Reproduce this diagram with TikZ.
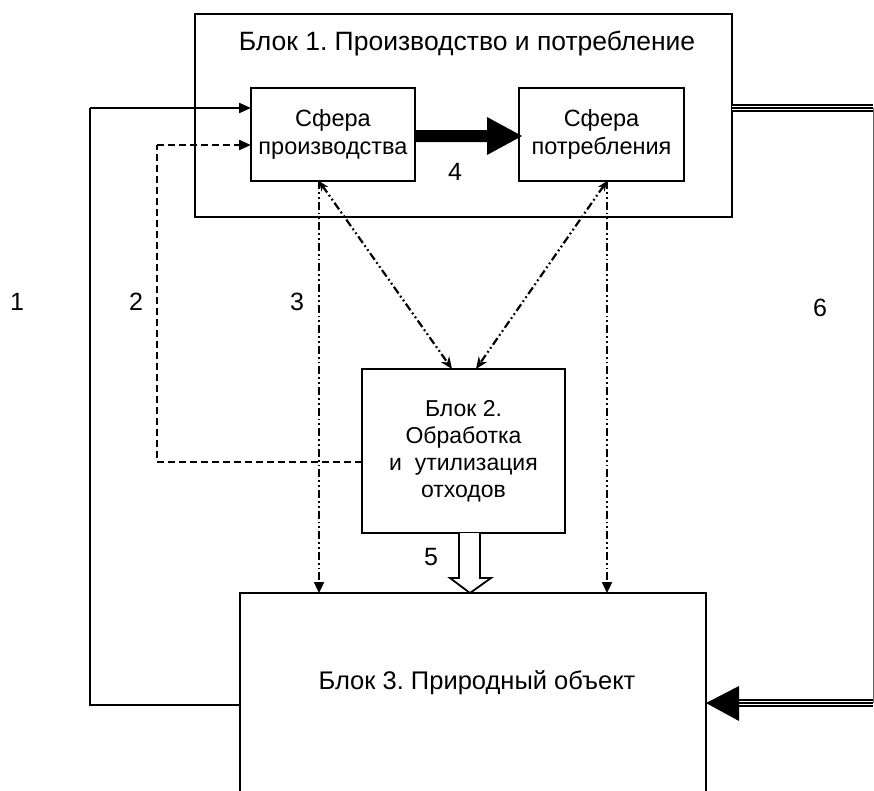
\documentclass[tikz,border=0pt]{standalone}
\usepackage{fontspec}
\setmainfont{Liberation Sans}
\usetikzlibrary{arrows.meta,calc}
\begin{document}
\frenchspacing
\begin{tikzpicture}[x=1pt,y=-1pt,
  rbox/.style={draw,line width=1.2pt,inner sep=0pt,outer sep=0pt,anchor=north west,align=center},
  lbl/.style={inner sep=0pt,font=\fontsize{25}{28}\selectfont},
  inbox/.style={font=\fontsize{23.5}{28}\selectfont},
  dashdot/.style={line width=2.2pt,dash pattern=on 8pt off 3pt on 1.8pt off 3pt on 1.8pt off 3pt},
  dashtwo/.style={line width=2.2pt,dash pattern=on 7pt off 4pt},
  tri/.style={-{Triangle[length=11pt,width=10pt]}},
  tribi/.style={{Stealth[length=10pt,width=8pt]}-{Stealth[length=12pt,width=10pt]}}
]
\useasboundingbox (0,0) rectangle (874,790);
% boxes
\node[rbox,minimum width=537pt,minimum height=203pt] (b1) at (195,14) {};
\node[inner sep=0pt,font=\fontsize{26.5}{30}\selectfont] (t1) at (467,44) {Блок 1. Производство и потребление};
\node[rbox,inbox,minimum width=164pt,minimum height=93pt] (prod) at (251,88) {Сфера\\производства};
\node[rbox,inbox,minimum width=165pt,minimum height=93pt] (cons) at (519,88) {Сфера\\потребления};
\node[rbox,font=\fontsize{23}{27}\selectfont,minimum width=203pt,minimum height=164pt] (b2) at (362,369) {Блок 2.\\Обработка\\и\ \ утилизация\\отходов};
\node[rbox,minimum width=466pt,minimum height=240pt] (b3) at (240,593) {};
\node[inner sep=0pt,font=\fontsize{25.5}{30}\selectfont] (t3) at (477,683) {Блок 3. Природный объект};
% labels
\node[lbl] (n1) at (17,302) {1};
\node[lbl] (n2) at (136,302) {2};
\node[lbl] (n3) at (297,302) {3};
\node[lbl] (n4) at (455,172) {4};
\node[lbl] (n5) at (431,557) {5};
\node[lbl] (n6) at (820,308) {6};
% coordinates
\coordinate (l1) at ($(b3.north west)+(0,112)$);
\coordinate (c1) at (90,108);
\coordinate (l1t) at ($(prod.north west)+(0,20)$);
\coordinate (l2s) at ($(b2.north west)+(0,93)$);
\coordinate (c2) at (157,300);
\coordinate (l2t) at ($(prod.north west)+(0,57)$);
\coordinate (pa) at ($(prod.south west)+(68,0)$);
\coordinate (ca) at ($(cons.south west)+(88,0)$);
\coordinate (d1) at ($(b2.north west)+(90,0)$);
\coordinate (d2) at ($(b2.north west)+(114,0)$);
% line 1
\draw[line width=1.2pt] (l1) -| (c1);
\draw[line width=2.2pt,-{Triangle[length=12pt,width=10pt]}] (c1) -- (l1t);
% line 2
\draw[dashtwo] (l2s) -| (c2 |- l2t);
\draw[dashtwo,-{Triangle[length=12pt,width=10pt]}] (c2 |- l2t) -- (l2t);
% dash-dot lines
\draw[dashdot,tri] (pa) -- (pa |- b3.north);
\draw[dashdot,tri] (ca) -- (ca |- b3.north);
\draw[dashdot,tribi] (pa) -- (d1);
\draw[dashdot,tribi] (ca) -- (d2);
% arrow 4
\fill ($(prod.east)+(0,-4.5)$) -- ($(cons.west)+(-32,-4.5)$) -- ($(cons.west)+(-32,-17.5)$)
  -- ($(cons.west)+(3,1.5)$) -- ($(cons.west)+(-32,20.5)$) -- ($(cons.west)+(-32,7.5)$)
  -- ($(prod.east)+(0,7.5)$) -- cycle;
% arrow 5
\draw[line width=1.8pt,fill=white] ($(b2.south west)+(97,0)$) -- ($(b2.south west)+(97,45)$)
  -- ($(b2.south west)+(88,45)$) -- ($(b3.north west)+(230,0)$) -- ($(b2.south west)+(129,45)$)
  -- ($(b2.south west)+(118,45)$) -- ($(b2.south west)+(118,0)$);
% triple line 6
\coordinate (r1) at ($(b1.north east)+(0,94)$);
\coordinate (r2) at (873,108);
\coordinate (r3) at (873,703);
\coordinate (r4) at ($(b3.north east)+(33,110)$);
\coordinate (r5) at ($(b3.north east)+(0,110)$);
\draw[line width=1pt,black!60] (r2) -- (r3);
\foreach \w/\c in {8pt/black,4.6pt/white,2.8pt/black}{
  \draw[line width=\w,\c] (r1) -- (r2);
  \draw[line width=\w,\c] (r3) -- (r4);
}
\fill (r5) -- ($(r4)+(0,-17)$) -- ($(r4)+(0,18)$) -- cycle;
\end{tikzpicture}
\end{document}
